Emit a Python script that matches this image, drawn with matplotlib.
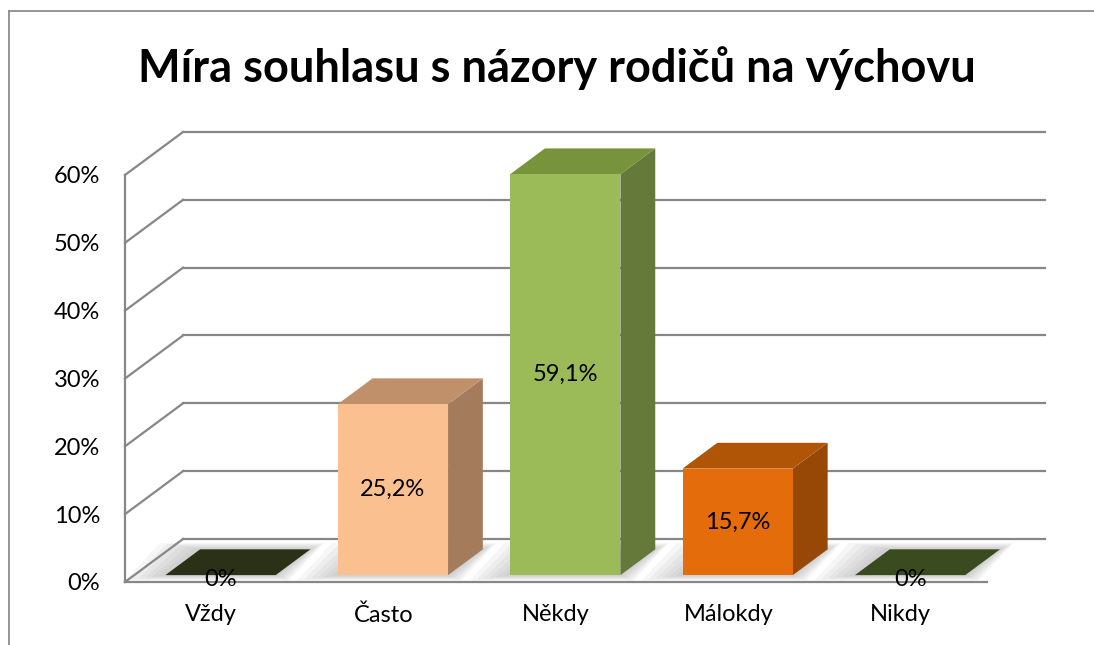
import numpy as np
import matplotlib.pyplot as plt
from matplotlib.patches import Polygon, Rectangle
from matplotlib.lines import Line2D

title = 'Míra souhlasu s názory rodičů na výchovu'
categories = ['Vždy', 'Často', 'Někdy', 'Málokdy', 'Nikdy']
values = [0, 25.2, 59.1, 15.7, 0]
value_labels = ['0%', '25,2%', '59,1%', '15,7%', '0%']
yticks = [0, 10, 20, 30, 40, 50, 60]
ytick_labels = ['0%', '10%', '20%', '30%', '40%', '50%', '60%']

front_colors = ['#2b3116', '#fac08f', '#9bbb59', '#e46c0a', '#3b4b20']
top_colors = ['#2b3116', '#c0906b', '#77933c', '#b05506', '#3b4b20']
side_colors = ['#2b3116', '#a47c5c', '#64793a', '#974806', '#3b4b20']

plt.rcParams['font.family'] = ['Lato', 'DejaVu Sans']

W, H = 1094, 645
fig = plt.figure(figsize=(W / 100, H / 100), dpi=100)

# front plane of the plot area (pixels): x 125..987, y 582 (0%) .. 175 (60%)
ax = fig.add_axes([125 / W, (H - 582) / H, 862 / W, 407 / H])
n = len(categories)
ax.set_xlim(0, n)
ax.set_ylim(0, 60)
for s in ax.spines.values():
    s.set_visible(False)

# depth of the 3d box, in data units
dx = 58 / 172.4
dy = 43 * 60 / 407
grid_color = '#878787'

for t in yticks:
    ax.plot([0, dx], [t, t + dy], color=grid_color, lw=1.6, clip_on=False, zorder=1)
    ax.plot([dx, n + dx], [t + dy, t + dy], color=grid_color, lw=1.6, clip_on=False, zorder=1)
ax.plot([0, 0], [0, 60], color=grid_color, lw=1.6, clip_on=False, zorder=6)
ax.plot([0, n], [0, 0], color=grid_color, lw=1.6, clip_on=False, zorder=6)

# bars: front face sits at f0 of the depth, back face at f1
f0, f1 = 0.16, 0.76
d = f1 - f0
w = 0.64
for i, v in enumerate(values):
    x0 = i + (1 - w) / 2 + f0 * dx
    y0 = f0 * dy

    # soft shadow on the floor
    for k in range(6):
        m = 0.013 * (6 - k)
        shadow = [(x0 - 3 * m, y0 - m * 10), (x0 + w + m, y0 - m * 10),
                  (x0 + w + d * dx + m, y0 + d * dy + m * 12),
                  (x0 + d * dx - 3 * m, y0 + d * dy + m * 12)]
        ax.add_patch(Polygon(shadow, closed=True, facecolor='#8f8f8f', alpha=0.08,
                             edgecolor='none', clip_on=False, zorder=2))

    if v > 0:
        ax.add_patch(Rectangle((x0, y0), w, v, facecolor=front_colors[i],
                               edgecolor='none', clip_on=False, zorder=4))
        side = [(x0 + w, y0), (x0 + w, y0 + v),
                (x0 + w + d * dx, y0 + v + d * dy), (x0 + w + d * dx, y0 + d * dy)]
        ax.add_patch(Polygon(side, closed=True, facecolor=side_colors[i],
                             edgecolor='none', clip_on=False, zorder=3))
    top = [(x0, y0 + v), (x0 + w, y0 + v),
           (x0 + w + d * dx, y0 + v + d * dy), (x0 + d * dx, y0 + v + d * dy)]
    ax.add_patch(Polygon(top, closed=True, facecolor=top_colors[i],
                         edgecolor='none', clip_on=False, zorder=3))

    if v > 0:
        ax.text(x0 + w / 2, y0 + v / 2, value_labels[i], ha='center', va='center',
                fontsize=17, color='black', zorder=7)
    else:
        ax.text(x0 + w / 2, y0 - 0.6, value_labels[i], ha='center', va='center',
                fontsize=17, color='black', zorder=7)

ax.set_yticks(yticks, ytick_labels)
ax.set_xticks(np.arange(n) + 0.5, categories)
ax.tick_params(axis='y', length=0, pad=18, labelsize=17)
ax.tick_params(axis='x', length=0, pad=16, labelsize=17)

fig.text(557 / W, 1 - 68 / H, title, ha='center', va='center',
         fontsize=32.5, fontweight='bold')

# chart border (left and top edges visible)
fig.add_artist(Line2D([9 / W, 9 / W], [0, 1 - 11 / H], color='#8c8c8c', lw=1.3))
fig.add_artist(Line2D([9 / W, 1], [1 - 11 / H, 1 - 11 / H], color='#8c8c8c', lw=1.3))

fig.savefig('out.png', dpi=100)
